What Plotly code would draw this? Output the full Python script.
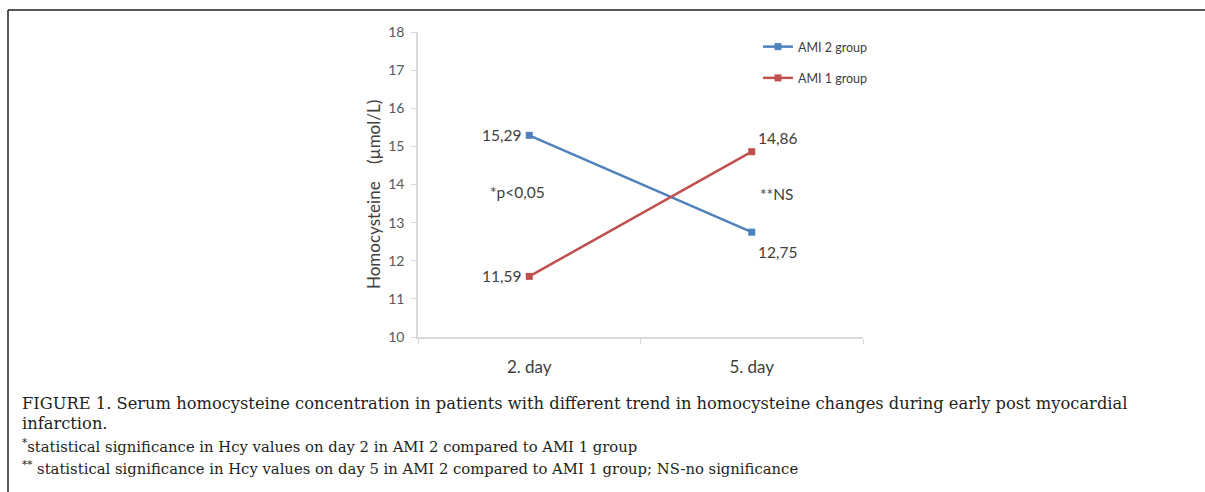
import plotly.graph_objects as go

categories = ["2. day", "5. day"]
ami2 = [15.29, 12.75]
ami1 = [11.59, 14.86]
ami2_labels = ["15,29", "12,75"]
ami1_labels = ["11,59", "14,86"]
y_ticks = [10, 11, 12, 13, 14, 15, 16, 17, 18]
sig_labels = ["*p<0,05", "**NS"]

BLUE = "#4f81bd"
RED = "#c0504d"
GRAY = "#595959"
AX = "#d9d9d9"
FONT = "Lato"

W, H = 1205, 492
PL, PR, PT, PB = 418, 863, 32, 337


def px(x):
    return (x - PL) / (PR - PL)


def py(y):
    return (PB - y) / (PB - PT)


fig = go.Figure()
fig.add_trace(go.Scatter(x=categories, y=ami2, mode="lines+markers", name="AMI 2 group",
                         line=dict(color=BLUE, width=2.5), marker=dict(symbol="square", size=7, color=BLUE),
                         legendgroup="a"))
fig.add_trace(go.Scatter(x=categories, y=ami1, mode="lines+markers", name="AMI 1 group",
                         line=dict(color=RED, width=2.5), marker=dict(symbol="square", size=7, color=RED),
                         legendgroup="b"))

lab_font = dict(family=FONT, size=15.5, color="#404040")
# data labels
fig.add_annotation(x=categories[0], y=ami2[0], text=ami2_labels[0], showarrow=False, xanchor="right", xshift=-6, font=lab_font)
fig.add_annotation(x=categories[0], y=ami1[0], text=ami1_labels[0], showarrow=False, xanchor="right", xshift=-6, font=lab_font)
fig.add_annotation(x=categories[1], y=ami1[1], text=ami1_labels[1], showarrow=False, xanchor="left", xshift=4, yshift=14, font=lab_font)
fig.add_annotation(x=categories[1], y=ami2[1], text=ami2_labels[1], showarrow=False, xanchor="left", xshift=4, yshift=-20, font=lab_font)
# significance labels
fig.add_annotation(x=categories[0], y=13.8, text=sig_labels[0], showarrow=False, xanchor="center", xshift=-12, font=lab_font)
fig.add_annotation(x=categories[1], y=13.75, text=sig_labels[1], showarrow=False, xanchor="center", xshift=25, font=lab_font)

# y-axis title
fig.add_annotation(xref="paper", yref="paper", x=px(373), y=py(195), xanchor="center", yanchor="middle",
                   text="Homocysteine    (µmol/L)",
                   textangle=-90, showarrow=False, font=dict(family=FONT, size=17, color="#404040"))

# caption
cap_font = dict(family="DejaVu Serif", size=16.3, color="#231f20")
fn_font = dict(family="DejaVu Serif", size=14.8, color="#231f20")
fig.add_annotation(xref="paper", yref="paper", x=px(20), y=py(403), xanchor="left", yanchor="middle", showarrow=False,
                   text="FIGURE 1. Serum homocysteine concentration in patients with different trend in homocysteine changes during early post myocardial",
                   font=cap_font)
fig.add_annotation(xref="paper", yref="paper", x=px(20), y=py(423), xanchor="left", yanchor="middle", showarrow=False,
                   text="infarction.", font=cap_font)
fig.add_annotation(xref="paper", yref="paper", x=px(20), y=py(445), xanchor="left", yanchor="middle", showarrow=False,
                   text="<sup>*</sup>statistical significance in Hcy values on day 2 in AMI 2 compared to AMI 1 group", font=fn_font)
fig.add_annotation(xref="paper", yref="paper", x=px(20), y=py(467), xanchor="left", yanchor="middle", showarrow=False,
                   text="<sup>**</sup> statistical significance in Hcy values on day 5 in AMI 2 compared to AMI 1 group; NS-no significance", font=fn_font)

# frame (top and left lines)
fig.add_shape(type="line", xref="paper", yref="paper", x0=px(8), x1=px(1205), y0=py(10), y1=py(10),
              line=dict(color="#231f20", width=1.5))
fig.add_shape(type="line", xref="paper", yref="paper", x0=px(8), x1=px(8), y0=py(10), y1=py(492),
              line=dict(color="#231f20", width=1.5))

fig.update_layout(
    width=W, height=H,
    margin=dict(l=PL, r=W - PR, t=PT, b=H - PB, pad=0),
    plot_bgcolor="white", paper_bgcolor="white",
    showlegend=True,
    legend=dict(x=px(758), y=py(32), xanchor="left", yanchor="top", bgcolor="rgba(0,0,0,0)",
                font=dict(family=FONT, size=12.5, color="#404040"), tracegroupgap=12),
    xaxis=dict(type="category", range=[-0.5, 1.5], showgrid=False, showline=True, linecolor=AX, linewidth=1.5,
               ticks="outside", tickson="boundaries", ticklen=5, tickcolor=AX, ticklabelstandoff=14,
               tickfont=dict(family=FONT, size=17, color="#404040"), zeroline=False),
    yaxis=dict(range=[10, 18], tickvals=y_ticks, showgrid=False, showline=True, linecolor=AX, linewidth=1.5,
               ticks="outside", ticklen=5, tickcolor=AX, ticklabelstandoff=4,
               tickfont=dict(family=FONT, size=14, color=GRAY), zeroline=False),
)

fig.write_html("out.html", config={"displayModeBar": False},
               post_script="document.body.style.margin='0';document.body.style.overflow='hidden';")
